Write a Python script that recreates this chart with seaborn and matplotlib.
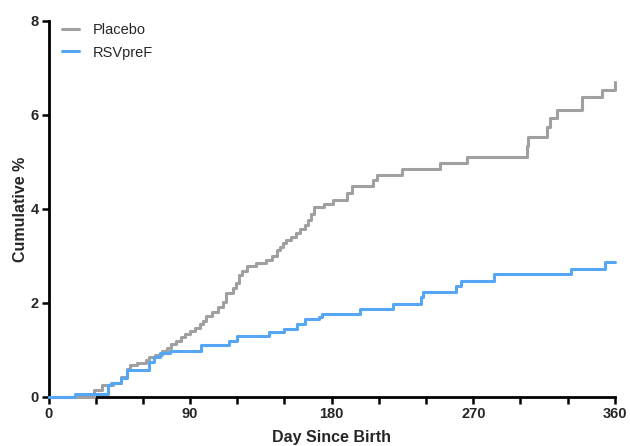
import pandas as pd
import numpy as np
from matplotlib import pyplot as plt
import seaborn as sns

# step points (day, cumulative %)
placebo_day = [0, 29, 34, 41, 46, 50, 52, 56, 62, 64, 68, 72, 75, 78, 81, 84, 87, 90,
               93, 96, 98, 100, 104, 108, 111, 113, 117, 119, 121, 123, 126, 132, 138,
               142, 145, 147, 149, 151, 154, 157, 160, 163, 165, 167, 169, 175, 181,
               190, 193, 206, 209, 225, 249, 266, 304, 305, 317, 319, 323, 339, 352, 360]
placebo_pct = [0, 0.15, 0.25, 0.3, 0.42, 0.6, 0.68, 0.72, 0.78, 0.85, 0.9, 0.98, 1.05,
               1.12, 1.2, 1.28, 1.34, 1.4, 1.47, 1.55, 1.62, 1.72, 1.8, 1.92, 2.02, 2.22,
               2.32, 2.42, 2.6, 2.68, 2.78, 2.85, 2.92, 3.0, 3.12, 3.2, 3.27, 3.34, 3.41,
               3.48, 3.58, 3.66, 3.76, 3.9, 4.04, 4.1, 4.19, 4.35, 4.49, 4.62, 4.72, 4.85,
               4.97, 5.11, 5.35, 5.53, 5.75, 5.94, 6.1, 6.39, 6.53, 6.71]

rsv_day = [0, 17, 38, 40, 46, 50, 64, 67, 71, 77, 97, 115, 120, 140, 150, 158, 163,
           172, 174, 198, 219, 237, 238, 259, 262, 283, 332, 354, 360]
rsv_pct = [0, 0.06, 0.25, 0.3, 0.4, 0.57, 0.75, 0.85, 0.93, 0.98, 1.1, 1.2, 1.3, 1.38,
           1.45, 1.55, 1.65, 1.7, 1.77, 1.87, 1.98, 2.12, 2.23, 2.35, 2.47, 2.61, 2.72,
           2.88, 2.88]

df = pd.concat([
    pd.DataFrame({'day': placebo_day, 'pct': placebo_pct, 'group': 'Placebo'}),
    pd.DataFrame({'day': rsv_day, 'pct': rsv_pct, 'group': 'RSVpreF'}),
])

sns.set_style('ticks')
plt.rcParams['font.family'] = ['Liberation Sans', 'DejaVu Sans']

fig = plt.figure(figsize=(6.3, 4.46), dpi=100)
ax = fig.add_axes([0.077, 0.11, 0.899, 0.843])

sns.lineplot(data=df, x='day', y='pct', hue='group', estimator=None, sort=False,
             palette={'Placebo': '#a0a0a0', 'RSVpreF': '#55a6f5'},
             drawstyle='steps-post', linewidth=2.2, ax=ax)
for ln in ax.lines:
    ln.set_clip_on(False)
    ln.set_zorder(5)

ax.set_xlim(0, 360)
ax.set_ylim(0, 8)
ax.set_xticks(np.arange(0, 361, 90))
ax.set_xticks(np.arange(0, 361, 30), minor=True)
ax.set_yticks(np.arange(0, 9, 2))
sns.despine(ax=ax)
for s in ['left', 'bottom']:
    ax.spines[s].set_linewidth(2)
    ax.spines[s].set_color('black')
ax.tick_params(which='both', width=1.8, length=5, color='black', pad=2)
for lab in ax.get_xticklabels() + ax.get_yticklabels():
    lab.set_fontweight('bold')
    lab.set_fontsize(10.5)

ax.set_xlabel('Day Since Birth', fontsize=11.5, fontweight='bold', labelpad=7)
ax.set_ylabel('Cumulative %', fontsize=11.5, fontweight='bold', labelpad=2)

ax.legend(title=None, frameon=False, loc='upper left', bbox_to_anchor=(0.0, 1.03),
          fontsize=10.5, handlelength=1.2, handletextpad=0.9, labelspacing=0.6)

fig.savefig('out.png', dpi=100)
